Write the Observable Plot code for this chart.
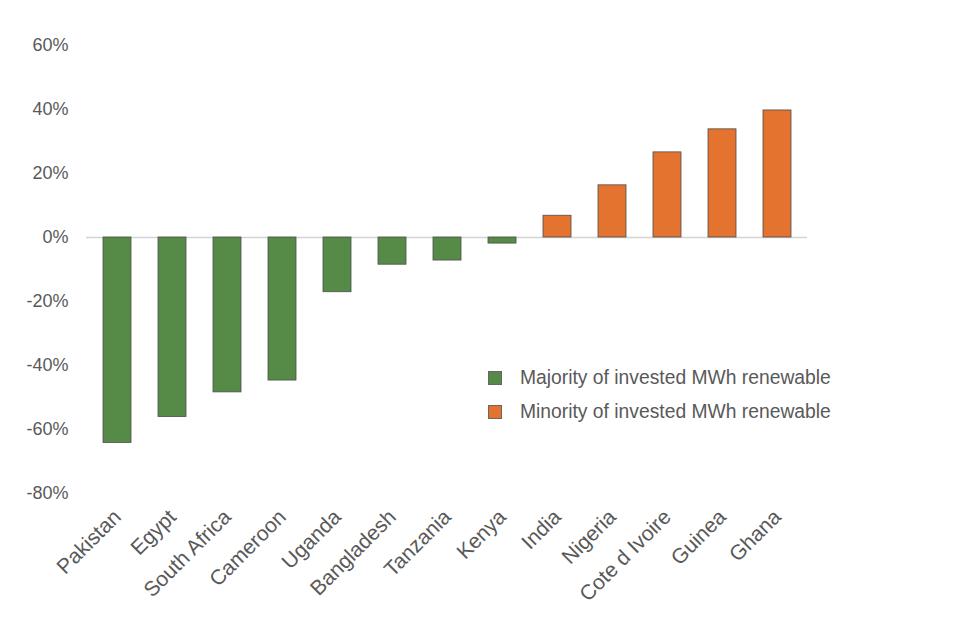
<!DOCTYPE html>
<html>
<head>
<meta charset="utf-8">
<script src="https://cdn.jsdelivr.net/npm/d3@7"></script>
<script src="https://cdn.jsdelivr.net/npm/@observablehq/plot@0.6"></script>
<style>
  html, body { margin: 0; padding: 0; background: #fff; }
  #wrap { position: relative; width: 960px; height: 640px; font-family: "Liberation Sans", Arial, sans-serif; }
  #legend { position: absolute; left: 488px; top: 361px; color: #595959; font-size: 19.3px; }
  .item { display: flex; align-items: center; height: 34px; }
  .sw { width: 14px; height: 14px; box-sizing: border-box; border: 1px solid #666; margin-right: 18px; }
</style>
</head>
<body>
<div id="wrap"></div>
<script>
const countries = ["Pakistan", "Egypt", "South Africa", "Cameroon", "Uganda", "Bangladesh", "Tanzania", "Kenya", "India", "Nigeria", "Cote d Ivoire", "Guinea", "Ghana"];
const values = [-64.2, -56.1, -48.4, -44.7, -17.1, -8.5, -7.2, -1.9, 6.8, 16.3, 26.6, 33.8, 39.7];
const groupIndex = [0, 0, 0, 0, 0, 0, 0, 0, 1, 1, 1, 1, 1];
const groupNames = ["Majority of invested MWh renewable", "Minority of invested MWh renewable"];
const groupColors = ["#558B46", "#E3732F"];
const yTicks = [60, 40, 20, 0, -20, -40, -60, -80];

const data = countries.map((c, i) => ({country: c, value: values[i], group: groupNames[groupIndex[i]]}));

const chart = Plot.plot({
  width: 960,
  height: 640,
  marginTop: 45,
  marginBottom: 147,
  marginLeft: 86,
  marginRight: 153,
  style: {fontFamily: "'Liberation Sans', Arial, sans-serif", background: "#fff", color: "#595959"},
  x: {domain: countries, paddingInner: 0.5, paddingOuter: 0.25, axis: null},
  y: {domain: [-80, 60], axis: null},
  color: {domain: groupNames, range: groupColors},
  marks: [
    Plot.ruleY([0], {stroke: "#d4d4d4", strokeWidth: 1.5}),
    Plot.barY(data, {x: "country", y: "value", fill: "group", stroke: "#4d4d4d", strokeWidth: 0.8}),
    Plot.axisY(yTicks, {tickSize: 0, tickPadding: 18, tickFormat: d => d + "%", fontSize: 18, fill: "#595959", label: null}),
    Plot.axisX({tickSize: 0, tickRotate: -45, tickPadding: 20, fontSize: 21, fill: "#595959", label: null})
  ]
});
document.getElementById("wrap").appendChild(chart);

const legend = document.createElement("div");
legend.id = "legend";
groupNames.forEach((g, i) => {
  const item = document.createElement("div");
  item.className = "item";
  const sw = document.createElement("div");
  sw.className = "sw";
  sw.style.background = groupColors[i];
  const t = document.createElement("span");
  t.textContent = g;
  item.appendChild(sw);
  item.appendChild(t);
  legend.appendChild(item);
});
document.getElementById("wrap").appendChild(legend);
</script>
</body>
</html>
